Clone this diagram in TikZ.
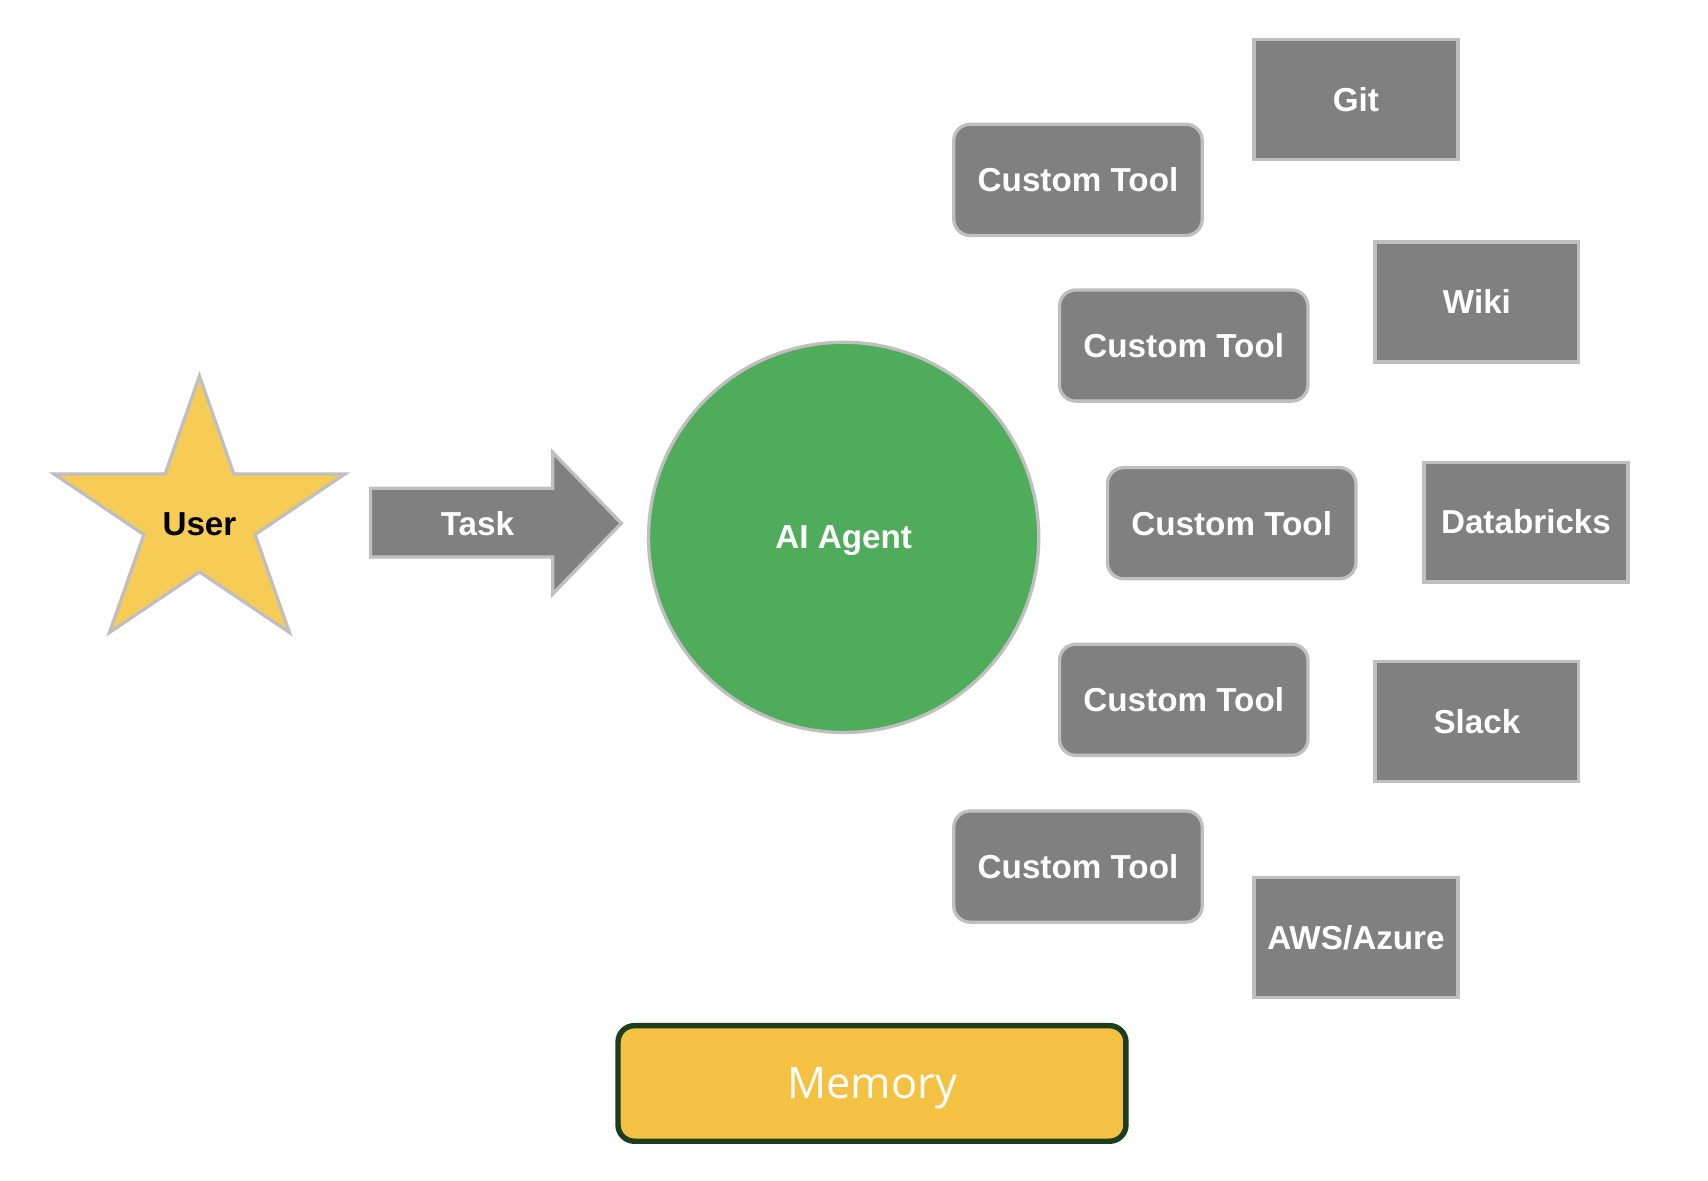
\documentclass[tikz,border=0pt]{standalone}
\usepackage{fontspec}
\setmainfont{Liberation Sans}
\newfontfamily\memfont{Open Sans}
\usepackage{tikz}
\usetikzlibrary{shapes.geometric,positioning}

\definecolor{toolfill}{rgb}{0.502,0.502,0.502}
\definecolor{toolline}{rgb}{0.749,0.749,0.749}
\definecolor{agentfill}{rgb}{0.310,0.675,0.357}
\definecolor{starfill}{rgb}{0.969,0.800,0.333}
\definecolor{memfill}{rgb}{0.961,0.757,0.259}
\definecolor{memline}{rgb}{0.106,0.247,0.106}

\tikzset{
  label/.style={font=\fontsize{15.3}{18}\selectfont\bfseries,text=white},
  customtool/.style={label,draw=toolline,fill=toolfill,line width=1.5bp,
    rounded corners=7.5bp,minimum width=114bp,minimum height=51bp,inner sep=0pt},
  service/.style={label,draw=toolline,fill=toolfill,line width=1.5bp,
    minimum width=93.5bp,minimum height=55bp,inner sep=0pt},
  shapeline/.style={draw=toolline,line width=1.5bp},
  agent/.style={label,shapeline,fill=agentfill,circle,minimum size=179bp,inner sep=0pt,
    text depth=0pt},
  memorybox/.style={draw=memline,fill=memfill,line width=2.5bp,rounded corners=7.5bp,
    minimum width=233bp,minimum height=53bp,text=white,text depth=0pt,
    font=\memfont\fontsize{20}{24}\selectfont}
}

\begin{document}
\begin{tikzpicture}[x=0.5bp,y=-0.5bp,line join=miter]
  \useasboundingbox (0,0) rectangle (1567,1083);
%%
  % Node: user
  \filldraw[shapeline,fill=starfill] (183,345) -- (214.5,434.8) -- (316.5,434.8) -- (234,490.4)
    -- (265.5,580.2) -- (183,524.7) -- (100.5,580.2) -- (132,490.4)
    -- (49.5,434.8) -- (151.5,434.8) -- cycle;
  \node[label,text=black] (user) at (183,481) {User};
  % Edge: task arrow
  \filldraw[shapeline,fill=toolfill]
    (340,448) -- (507,448) -- (507,415) -- (570,480) -- (507,545) -- (507,511) -- (340,511) -- cycle;
  \node[label] (task) at (438,480) {Task};
  % Node: agent
  \node[agent] (agent) at (774,493) {AI Agent};
  % Nodes: custom tools
  \node[customtool] (ct1) at (989,165) {Custom Tool};
  \node[customtool] (ct2) at (1086,317) {Custom Tool};
  \node[customtool] (ct3) at (1130,480) {Custom Tool};
  \node[customtool] (ct4) at (1086,642) {Custom Tool};
  \node[customtool] (ct5) at (989,795) {Custom Tool};
  % Nodes: services
  \node[service] (git) at (1244,91) {Git};
  \node[service] (wiki) at (1355,277) {Wiki};
  \node[service] (databricks) at (1400,479) {Databricks};
  \node[service] (slack) at (1355,662) {Slack};
  \node[service] (aws) at (1244,860) {AWS/Azure};
  % Node: memory
  \node[memorybox] (memory) at (800,994) {Memory};
%
\end{tikzpicture}
\end{document}
